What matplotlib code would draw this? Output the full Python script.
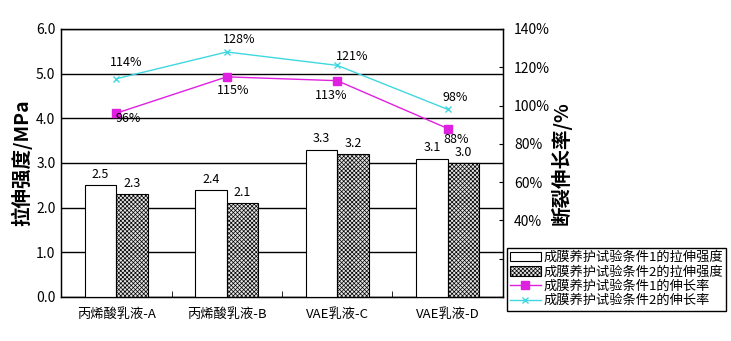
import numpy as np
import matplotlib
matplotlib.use('Agg')
import matplotlib.pyplot as plt
from matplotlib.ticker import PercentFormatter

plt.rcParams['font.family'] = ['Noto Sans CJK SC', 'DejaVu Sans']
plt.rcParams['hatch.linewidth'] = 0.5
plt.rcParams['hatch.color'] = '#555555'

# dados
categorias = ['丙烯酸乳液-A', '丙烯酸乳液-B', 'VAE乳液-C', 'VAE乳液-D']
resistencia_1 = [2.5, 2.4, 3.3, 3.1]
resistencia_2 = [2.3, 2.1, 3.2, 3.0]
alongamento_1 = [96, 115, 113, 88]
alongamento_2 = [114, 128, 121, 98]

rotulos_serie = ['成膜养护试验条件1的拉伸强度', '成膜养护试验条件2的拉伸强度',
                 '成膜养护试验条件1的伸长率', '成膜养护试验条件2的伸长率']

# deslocamentos dos rótulos (pixels)
desloc_1 = [(12, -5), (6, -14), (-6, -15), (8, -11)]
desloc_2 = [(10, 16), (12, 12), (15, 9), (7, 12)]

fig = plt.figure(figsize=(7.31, 3.41), dpi=100)
ax = fig.add_axes([61 / 731, 44 / 341, 442 / 731, 268 / 341])
x = np.arange(len(categorias))
w = 0.285

b1 = ax.bar(x - w / 2, resistencia_1, w, color='white', edgecolor='black', linewidth=0.8, zorder=3,
            label=rotulos_serie[0])
b2 = ax.bar(x + w / 2, resistencia_2, w, color='#e4e4e4', edgecolor='black', linewidth=0.8,
            hatch='xxxxxxxx', zorder=3, label=rotulos_serie[1])
ax.bar_label(b1, labels=[f'{v:.1f}' for v in resistencia_1], padding=3, fontsize=9)
ax.bar_label(b2, labels=[f'{v:.1f}' for v in resistencia_2], padding=3, fontsize=9)

ax.set_xlim(-0.5, 3.5)
ax.set_ylim(0, 6)
ax.set_yticks(np.arange(0, 6.1, 1.0))
ax.set_yticklabels([f'{v:.1f}' for v in np.arange(0, 6.1, 1.0)], fontsize=10)
ax.yaxis.grid(True, color='black', linewidth=1)
ax.set_axisbelow(True)
ax.set_xticks(x)
ax.set_xticklabels(categorias, fontsize=9.5)
ax.tick_params(axis='x', length=0, pad=8)
ax.set_xticks([0.5, 1.5, 2.5], minor=True)
ax.tick_params(axis='x', which='minor', direction='in', length=4)
ax.tick_params(axis='y', length=0, pad=4)
for s in ax.spines.values():
    s.set_linewidth(1)
ax.set_ylabel('拉伸强度/MPa', fontsize=14, fontweight='bold', labelpad=3)

ax2 = ax.twinx()
l1, = ax2.plot(x, alongamento_1, color='#e020e0', marker='s', markersize=6, linewidth=1,
               label=rotulos_serie[2])
l2, = ax2.plot(x, alongamento_2, color='#40d8e0', marker='x', markersize=5, linewidth=1,
               label=rotulos_serie[3])
for i in range(len(x)):
    ax2.annotate(f'{alongamento_1[i]}%', (x[i], alongamento_1[i]), xytext=desloc_1[i],
                 textcoords='offset pixels', ha='center', va='center', fontsize=9)
    ax2.annotate(f'{alongamento_2[i]}%', (x[i], alongamento_2[i]), xytext=desloc_2[i],
                 textcoords='offset pixels', ha='center', va='center', fontsize=9)
ax2.set_ylim(0, 140)
ax2.set_yticks(np.arange(0, 141, 20))
ax2.yaxis.set_major_formatter(PercentFormatter(decimals=0))
ax2.tick_params(axis='y', direction='in', length=3, labelsize=10, pad=8)
ax2.set_ylabel('断裂伸长率/%', fontsize=14, fontweight='bold', labelpad=0)

leg = ax2.legend(handles=[b1, b2, l1, l2], loc='upper left', bbox_to_anchor=(507 / 731, 93 / 341),
                 bbox_transform=fig.transFigure, fontsize=9.5, frameon=True, fancybox=False,
                 edgecolor='black', framealpha=1, borderpad=0.25, labelspacing=0.1,
                 handlelength=2.3, handletextpad=0.2, borderaxespad=0)
leg.get_frame().set_linewidth(1)
leg.set_zorder(10)

fig.savefig('out.png', dpi=100, facecolor='white')
